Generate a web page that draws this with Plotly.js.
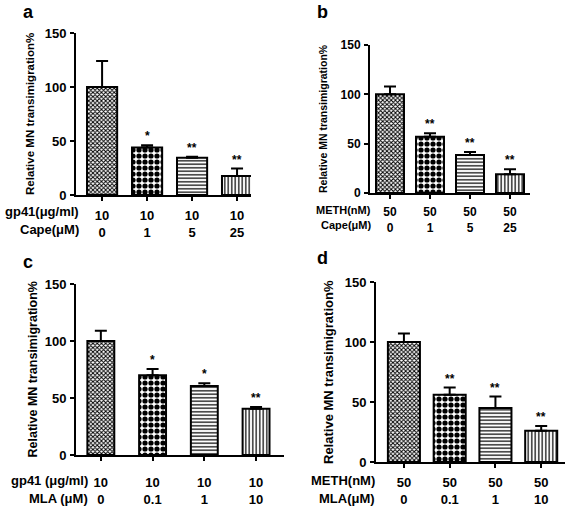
<!DOCTYPE html>
<html>
<head>
<meta charset="utf-8">
<script src="https://cdn.plot.ly/plotly-3.0.1.min.js"></script>
<style>html,body{margin:0;padding:0;background:#fff;}#chart{width:567px;height:508px;}</style>
</head>
<body>
<div id="chart"></div>
<script>
// ---- Data ----
const aMeans = [100, 44, 34.5, 17.5];
const aErr   = [24, 2, 1, 7];
const aStars = ["", "*", "**", "**"];
const aRow1  = ["10", "10", "10", "10"];
const aRow2  = ["0", "1", "5", "25"];
const aLab1  = "gp41(μg/ml)";
const aLab2  = "Cape(μM)";

const bMeans = [100, 57, 38.5, 19];
const bErr   = [8, 3.5, 3, 5];
const bStars = ["", "**", "**", "**"];
const bRow1  = ["50", "50", "50", "50"];
const bRow2  = ["0", "1", "5", "25"];
const bLab1  = "METH(nM)";
const bLab2  = "Cape(μM)";

const cMeans = [100, 70, 60.5, 40.5];
const cErr   = [9, 5.5, 2.5, 1.5];
const cStars = ["", "*", "*", "**"];
const cRow1  = ["10", "10", "10", "10"];
const cRow2  = ["0", "0.1", "1", "10"];
const cLab1  = "gp41 (μg/ml)";
const cLab2  = "MLA (μM)";

const dMeans = [100, 56, 45, 26];
const dErr   = [7, 6, 9.5, 4];
const dStars = ["", "**", "**", "**"];
const dRow1  = ["50", "50", "50", "50"];
const dRow2  = ["0", "0.1", "1", "10"];
const dLab1  = "METH(nM)";
const dLab2  = "MLA(μM)";

const yTitle = "Relative MN transimigration%";
const yTicks = [0, 50, 100, 150];
const panelLetters = ["a", "b", "c", "d"];
const xPos = [0, 1, 2, 3];

// ---- Layout geometry (pixels) ----
const W = 567, H = 508;
const px = v => v / W;
const py = v => 1 - v / H;
const FONT = "Liberation Sans, Arial, sans-serif";

const panels = [
  {m: aMeans, e: aErr, s: aStars, r1: aRow1, r2: aRow2, l1: aLab1, l2: aLab2,
   xd: [76, 251], yd: [195, 33], xr: [-0.58, 3.31], bw: 0.67, labR: 81,
   r1y: 212, r2y: 229, ttlx: 30, ttlsize: 11.5, letter: [28, 0], std: 3, fs: 13, lfs: 13},
  {m: bMeans, e: bErr, s: bStars, r1: bRow1, r2: bRow2, l1: bLab1, l2: bLab2,
   xd: [370, 530], yd: [193, 45], xr: [-0.5, 3.5], bw: 0.7, labR: 373,
   r1y: 210, r2y: 225, ttlx: 323, ttlsize: 10.5, letter: [322, 0], std: 3, fs: 12, lfs: 11},
  {m: cMeans, e: cErr, s: cStars, r1: cRow1, r2: cRow2, l1: cLab1, l2: cLab2,
   xd: [76, 284], yd: [455, 284], xr: [-0.48, 3.54], bw: 0.52, labR: 90,
   r1y: 480, r2y: 498, ttlx: 32, ttlsize: 12.5, letter: [28, 250], std: 10, fs: 13, lfs: 13},
  {m: dMeans, e: dErr, s: dStars, r1: dRow1, r2: dRow2, l1: dLab1, l2: dLab2,
   xd: [376, 565], yd: [462, 282], xr: [-0.61, 3.52], bw: 0.7, labR: 377,
   r1y: 480, r2y: 498, ttlx: 328, ttlsize: 13, letter: [322, 246], std: 3, fs: 13, lfs: 13}
];

const data = [];
const annotations = [];
const layout = {
  width: W, height: H,
  margin: {l: 0, r: 0, t: 0, b: 0},
  paper_bgcolor: "#fff", plot_bgcolor: "#fff",
  showlegend: false,
  font: {family: FONT, color: "#000", size: 13, weight: "bold"},
  annotations: annotations
};

panels.forEach((p, i) => {
  const n = i === 0 ? "" : String(i + 1);
  const xa = "x" + n, ya = "y" + n;
  data.push({
    type: "bar", x: xPos, y: p.m, xaxis: xa, yaxis: ya, width: p.bw,
    marker: {
      color: "#fff",
      line: {color: "#000", width: 2},
      pattern: {
        shape: ["x", ".", "-", "|"],
        size: [3, 6, 3.5, 3.5],
        solidity: [0.55, 0.6, 0.35, 0.35],
        fgcolor: "#000", bgcolor: "#fff", fillmode: "replace"
      }
    },
    error_y: {type: "data", symmetric: false, array: p.e, arrayminus: [0, 0, 0, 0],
              color: "#000", thickness: 2, width: 6},
    hoverinfo: "none"
  });
  const ticktext = p.r1.map((t, k) => t + "<br>" + p.r2[k]);
  layout["xaxis" + n] = {
    domain: [px(p.xd[0]), px(p.xd[1])], range: p.xr, anchor: ya,
    tickvals: xPos, ticktext: ticktext, ticks: "outside", ticklen: 4, tickwidth: 2,
    tickcolor: "#000", showline: true, linecolor: "#000", linewidth: 2,
    showgrid: false, zeroline: false, fixedrange: true, ticklabelstandoff: p.std,
    tickfont: {family: FONT, size: p.fs, weight: "bold", color: "#000"}
  };
  layout["yaxis" + n] = {
    domain: [py(p.yd[0]), py(p.yd[1])], range: [0, 150], anchor: xa,
    tickvals: yTicks, ticks: "outside", ticklen: 4, tickwidth: 2, tickcolor: "#000",
    showline: true, linecolor: "#000", linewidth: 2, showgrid: false, zeroline: false,
    fixedrange: true, ticklabelstandoff: 1,
    tickfont: {family: FONT, size: p.fs, weight: "bold", color: "#000"}
  };
  // stars
  p.s.forEach((st, k) => {
    if (!st) return;
    annotations.push({xref: xa, yref: ya, x: xPos[k], y: p.m[k] + p.e[k], text: st,
      showarrow: false, yanchor: "bottom", yshift: 0,
      font: {family: FONT, size: 12, weight: "bold", color: "#000"}});
  });
  // row labels
  [[p.l1, p.r1y], [p.l2, p.r2y]].forEach(([t, yy]) => {
    annotations.push({xref: "paper", yref: "paper",
      x: px(p.labR), y: py(yy), text: t,
      xanchor: "right", yanchor: "middle", showarrow: false,
      font: {family: FONT, size: p.lfs, weight: "bold", color: "#000"}});
  });
  // y title
  annotations.push({xref: "paper", yref: "paper", x: px(p.ttlx), y: py((p.yd[0] + p.yd[1]) / 2),
    text: yTitle, textangle: -90, showarrow: false, xanchor: "center", yanchor: "middle",
    font: {family: FONT, size: p.ttlsize, weight: "bold", color: "#000"}});
  // panel letter
  annotations.push({xref: "paper", yref: "paper", x: px(p.letter[0]), y: py(p.letter[1]),
    text: panelLetters[i], showarrow: false, xanchor: "center", yanchor: "top",
    font: {family: FONT, size: 18, weight: "bold", color: "#000"}});
});

Plotly.newPlot("chart", data, layout, {staticPlot: true, displayModeBar: false});
</script>
</body>
</html>
